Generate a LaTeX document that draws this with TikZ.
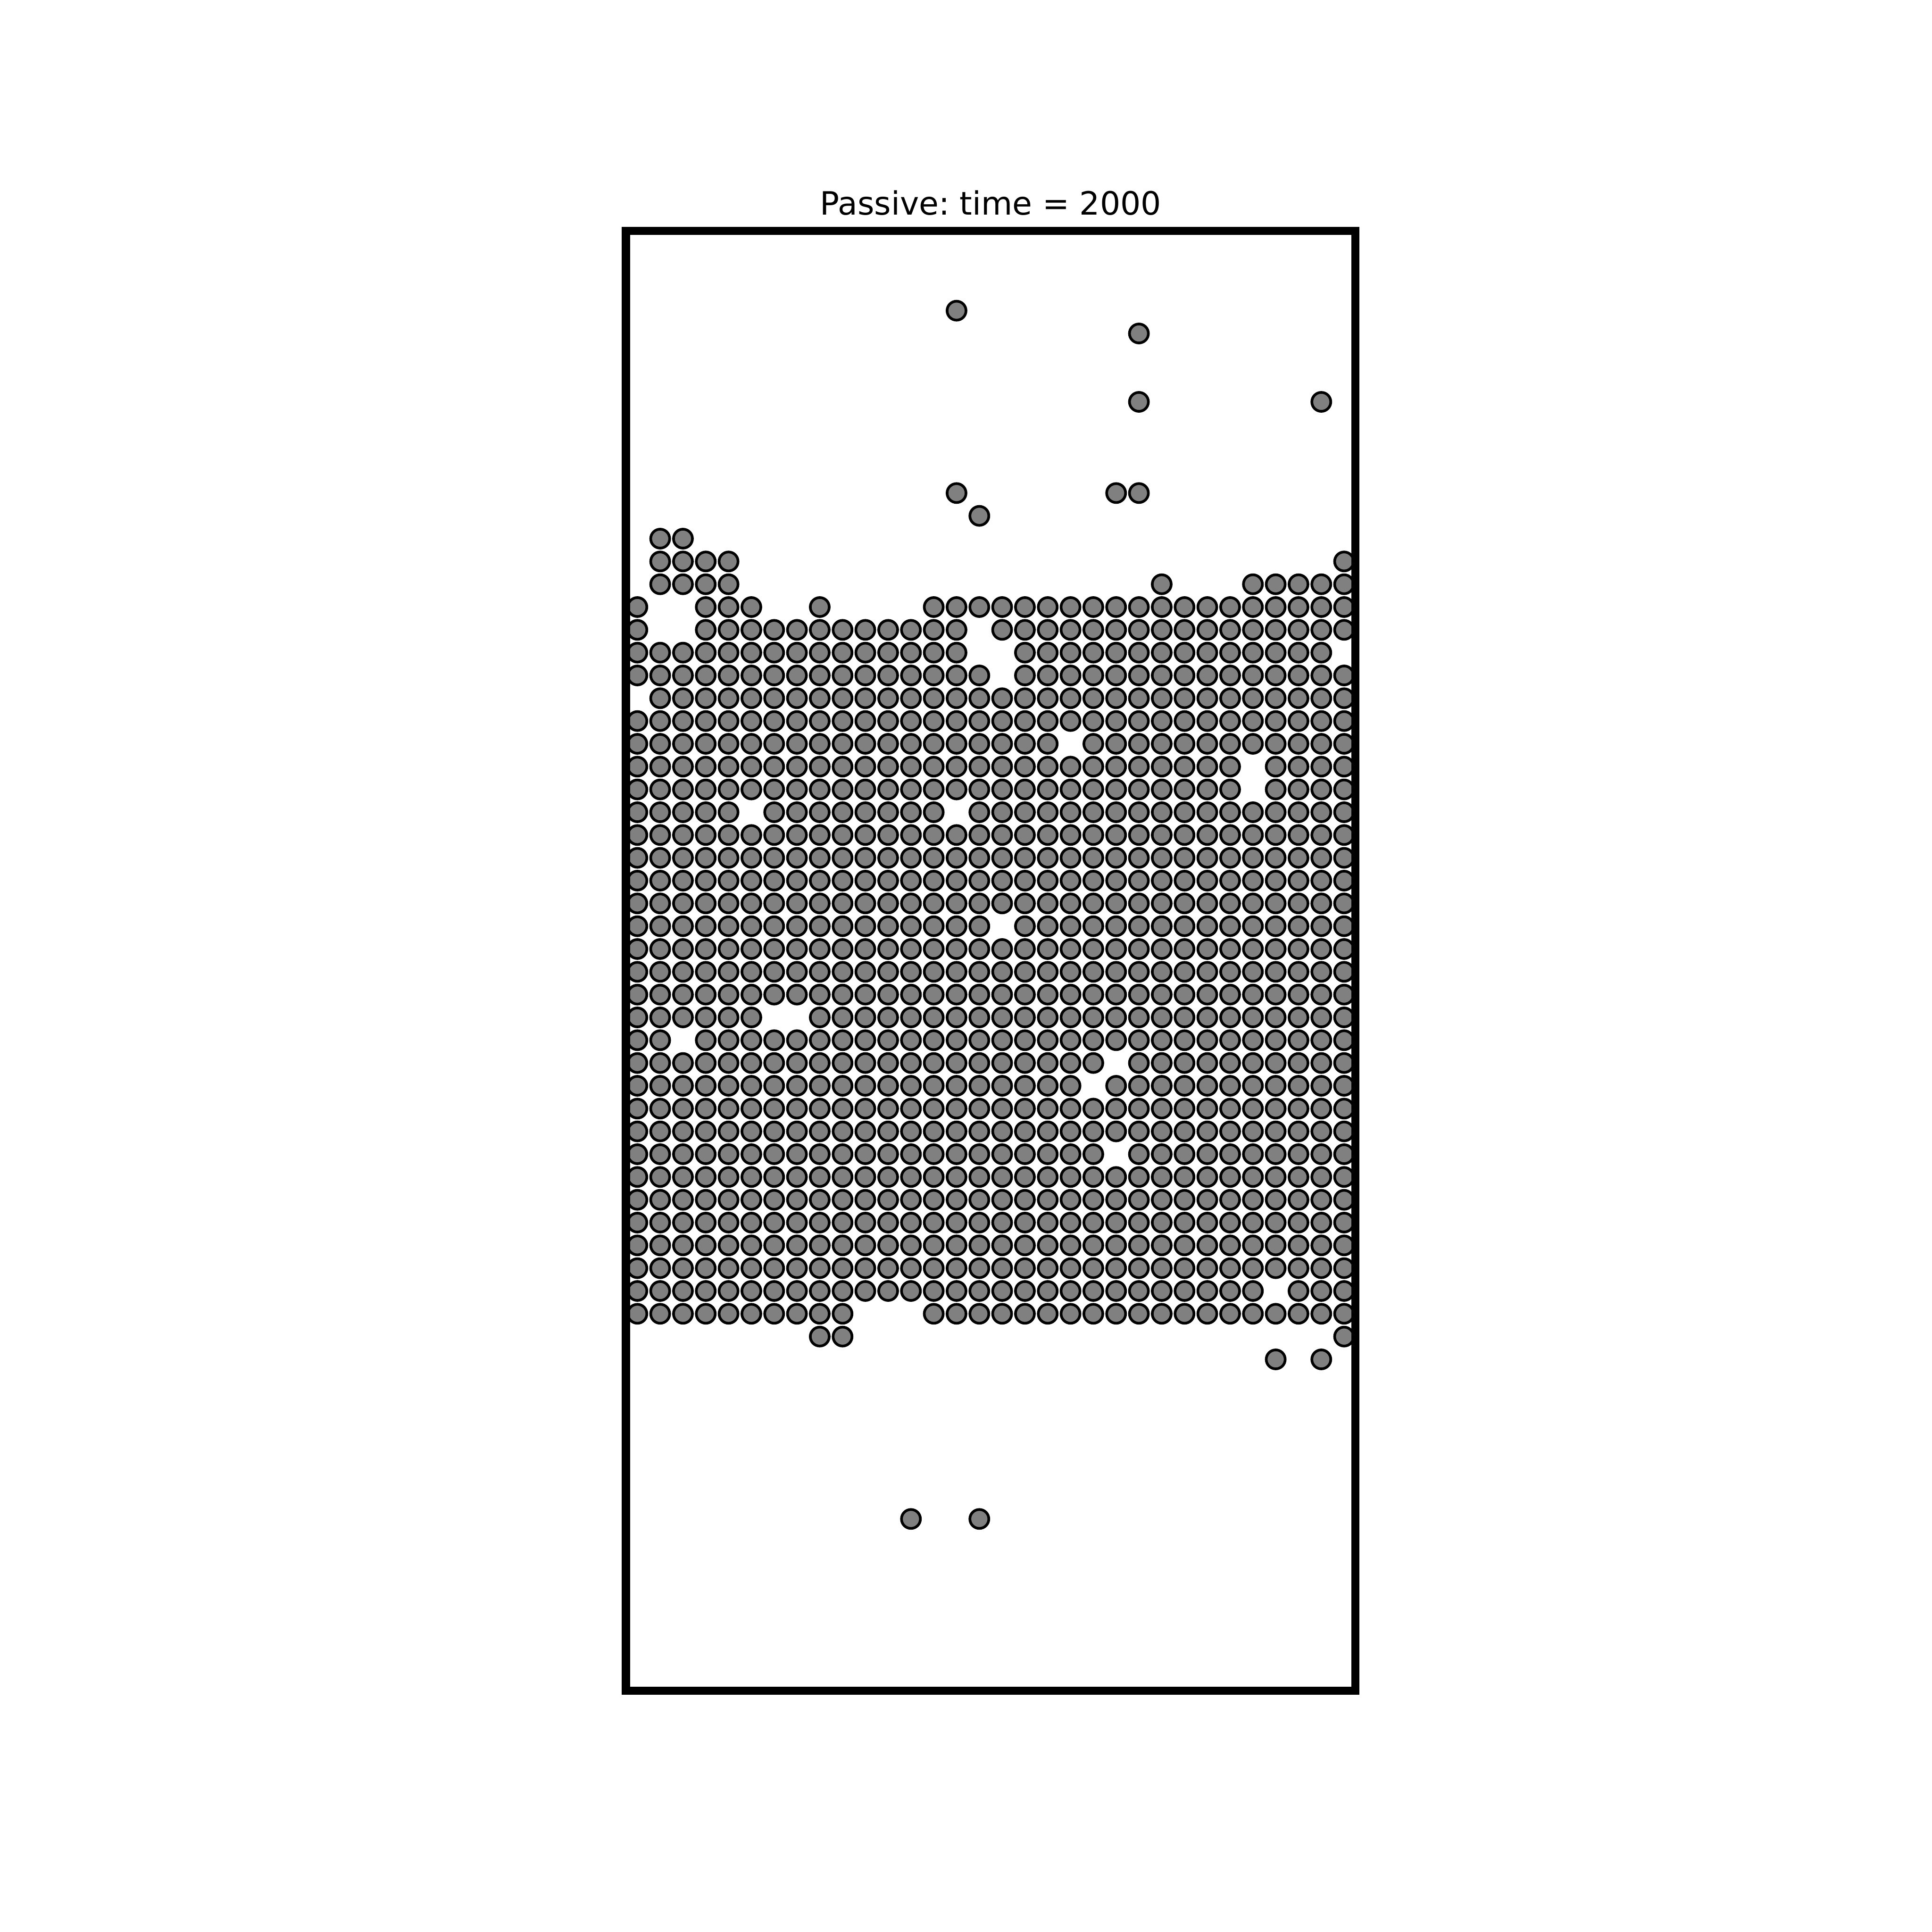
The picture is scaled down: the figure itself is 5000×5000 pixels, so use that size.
\documentclass[tikz,border=0pt]{standalone}
\usepackage{fontspec}
\setmainfont{DejaVu Sans}
\frenchspacing
\begin{document}
\begin{tikzpicture}[x=0.002in,y=-0.002in,
  dot/.style={draw=black,fill=gray,line width=1pt},
  frame/.style={draw=black,line width=3.04pt},
  titletext/.style={anchor=base,inner sep=0pt,font=\fontsize{12}{14}\selectfont}]
\useasboundingbox[fill=white] (0,0) rectangle (5000,5000);
\foreach \r/\segs in {
  3/{14/14},
  4/{22/22},
  7/{22/22,30/30},
  11/{14/14,21/22},
  12/{15/15},
  13/{1/2},
  14/{1/4,31/31},
  15/{1/4,23/23,27/31},
  16/{0/0,3/5,8/8,13/31},
  17/{0/0,3/14,16/31},
  18/{0/14,17/30},
  19/{0/15,17/31},
  20/{1/31},
  21/{0/31},
  22/{0/18,20/31},
  23/{0/26,28/31},
  24/{0/26,28/31},
  25/{0/4,6/13,15/31},
  26/{0/31},
  27/{0/31},
  28/{0/31},
  29/{0/31},
  30/{0/15,17/31},
  31/{0/31},
  32/{0/31},
  33/{0/31},
  34/{0/5,8/31},
  35/{0/1,3/31},
  36/{0/20,22/31},
  37/{0/19,21/31},
  38/{0/31},
  39/{0/31},
  40/{0/20,22/31},
  41/{0/31},
  42/{0/31},
  43/{0/31},
  44/{0/31},
  45/{0/31},
  46/{0/27,29/31},
  47/{0/9,13/31},
  48/{8/9,31/31},
  49/{28/28,30/30},
  56/{12/12,15/15}}{
  \foreach \a/\b in \segs {
    \foreach \c in {\a,...,\b} {
      \path[dot] ({1620+59*(\c+0.5)},{597.5+59*(\r+0.5)}) circle[radius=24.5];
    }
  }
}
\draw[frame] (1620,597.5) rectangle (3508,4375.5);
\node[titletext] (title) at (2564,556) {Passive: time = 2000};
\end{tikzpicture}
\end{document}
